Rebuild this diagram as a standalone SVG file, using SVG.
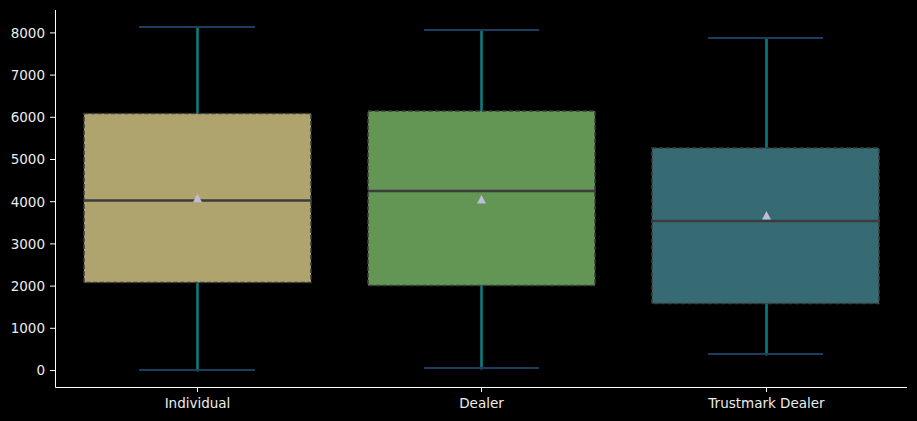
<svg xmlns="http://www.w3.org/2000/svg" width="917" height="421" viewBox="0 0 917 421">
<style>
text{font-family:"DejaVu Sans","Liberation Sans",sans-serif;font-size:13.5px;fill:#ececec}
.ytl{text-anchor:end}
.xtl{text-anchor:middle}
.ax{stroke:#ffffff;stroke-width:1;fill:none}
.tick{stroke:#ffffff;stroke-width:1}
.box{stroke:#3c3c3c;stroke-width:1.6;stroke-dasharray:4.5,2.2}
.whisk{stroke:#0b7d7d;stroke-width:2.6}
.cap{stroke:#1c3d5e;stroke-width:2}
.med{stroke:#3c3c3c;stroke-width:2.6}
.mean{fill:#bdbcd9}
</style>
<rect x="0" y="0" width="917" height="421" fill="#000000"/>
<g id="axes">
<path class="ax" d="M55.5,10 V387.5 H907"/>
<g id="yticks">
<line class="tick" x1="50" y1="370.5" x2="55.5" y2="370.5"/><text class="ytl" x="45" y="375.3">0</text>
<line class="tick" x1="50" y1="328.3" x2="55.5" y2="328.3"/><text class="ytl" x="45" y="333.1">1000</text>
<line class="tick" x1="50" y1="286.1" x2="55.5" y2="286.1"/><text class="ytl" x="45" y="290.9">2000</text>
<line class="tick" x1="50" y1="243.9" x2="55.5" y2="243.9"/><text class="ytl" x="45" y="248.7">3000</text>
<line class="tick" x1="50" y1="201.7" x2="55.5" y2="201.7"/><text class="ytl" x="45" y="206.5">4000</text>
<line class="tick" x1="50" y1="159.5" x2="55.5" y2="159.5"/><text class="ytl" x="45" y="164.3">5000</text>
<line class="tick" x1="50" y1="117.3" x2="55.5" y2="117.3"/><text class="ytl" x="45" y="122.1">6000</text>
<line class="tick" x1="50" y1="75.1" x2="55.5" y2="75.1"/><text class="ytl" x="45" y="79.9">7000</text>
<line class="tick" x1="50" y1="32.9" x2="55.5" y2="32.9"/><text class="ytl" x="45" y="37.7">8000</text>
</g>
<g id="xticks">
<line class="tick" x1="197.5" y1="387.5" x2="197.5" y2="392"/><text class="xtl" x="197.5" y="408.3">Individual</text>
<line class="tick" x1="481.5" y1="387.5" x2="481.5" y2="392"/><text class="xtl" x="481.5" y="408.3">Dealer</text>
<line class="tick" x1="766.5" y1="387.5" x2="766.5" y2="392"/><text class="xtl" x="766.5" y="408.3">Trustmark Dealer</text>
</g>
</g>
<g id="connectors">
<line class="whisk" x1="197.5" y1="113.5" x2="197.5" y2="27"/>
<line class="whisk" x1="197.5" y1="282.5" x2="197.5" y2="371.5"/>
<line class="whisk" x1="481.5" y1="111" x2="481.5" y2="30"/>
<line class="whisk" x1="481.5" y1="285.5" x2="481.5" y2="369.5"/>
<line class="whisk" x1="766.5" y1="148" x2="766.5" y2="38"/>
<line class="whisk" x1="766.5" y1="303.5" x2="766.5" y2="355.5"/>
</g>
<g id="individual">
<rect class="box" x="84" y="113.5" width="227" height="169" fill="#b0a46e"/>
<line class="med" x1="84" y1="200.5" x2="312" y2="200.5"/>
<line class="cap" x1="139" y1="27" x2="255" y2="27"/>
<line class="cap" x1="139" y1="370" x2="255" y2="370"/>
<path class="mean" d="M197.5,193.5 L202,202.3 H193 Z"/>
</g>
<g id="dealer">
<rect class="box" x="368" y="111" width="227" height="174.5" fill="#639555"/>
<line class="med" x1="368" y1="191" x2="596" y2="191"/>
<line class="cap" x1="424" y1="30" x2="539" y2="30"/>
<line class="cap" x1="424" y1="368" x2="539" y2="368"/>
<path class="mean" d="M481.5,195 L486,203.5 H477 Z"/>
</g>
<g id="trustmark">
<rect class="box" x="652" y="148" width="227" height="155.5" fill="#366b73"/>
<line class="med" x1="652" y1="221" x2="880" y2="221"/>
<line class="cap" x1="708" y1="38" x2="823" y2="38"/>
<line class="cap" x1="708" y1="354" x2="823" y2="354"/>
<path class="mean" d="M766.5,211 L771,219.5 H762 Z"/>
</g>
</svg>
